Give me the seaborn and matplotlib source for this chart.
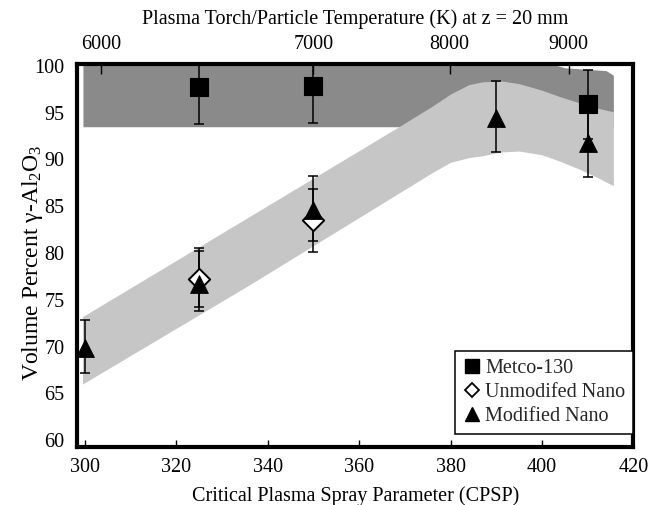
import matplotlib
matplotlib.use("Agg")
import matplotlib.pyplot as plt
import seaborn as sns
import pandas as pd
from matplotlib.lines import Line2D

# ---------------- data ----------------
metco_x = [325, 350, 410]
metco_y = [97.7, 97.9, 95.9]
metco_err_lo = [3.9, 4.0, 3.7]
metco_err_hi = [3.9, 4.0, 3.7]

unmod_x = [325, 350]
unmod_y = [77.2, 83.5]
unmod_err_lo = [2.95, 2.2]
unmod_err_hi = [3.0, 3.3]

mod_x = [300, 325, 350, 390, 410]
mod_y = [69.9, 76.7, 84.55, 94.45, 91.8]
mod_err_lo = [2.7, 2.9, 4.45, 3.65, 3.7]
mod_err_hi = [2.9, 3.85, 3.65, 3.95, 3.7]

# shaded bands
nano_band_x = [299.5, 336, 368, 376, 380, 384, 387, 391, 395, 400, 404, 408.5, 412, 415.6]
nano_band_upper = [73.2, 83.9, 93.3, 95.7, 97.0, 98.0, 98.3, 98.4, 98.1, 97.4, 96.7, 96.0, 95.5, 95.1]
nano_band_lower = [66.0, 76.6, 86.2, 88.6, 89.7, 90.2, 90.4, 90.8, 90.9, 90.5, 89.8, 88.9, 88.1, 87.2]

metco_band_x = [299.6, 400, 405, 414, 415.6]
metco_band_upper = [100.5, 100.5, 99.8, 99.5, 99.0]
metco_band_lower = [93.5, 93.5, 93.5, 93.5, 93.5]

# top axis (temperature) ticks, located on the CPSP scale
temp_tick_pos = [303.6, 350.0, 379.8, 405.8]
temp_tick_labels = ["6000", "7000", "8000", "9000"]

x_ticks = [300, 320, 340, 360, 380, 400, 420]
y_ticks = [60, 65, 70, 75, 80, 85, 90, 95, 100]

# ---------------- style ----------------
sns.set_theme(style="white")
plt.rcParams["font.family"] = ["Liberation Serif", "DejaVu Serif"]
plt.rcParams["mathtext.fontset"] = "custom"
plt.rcParams["mathtext.rm"] = "Liberation Serif"
plt.rcParams["mathtext.it"] = "Liberation Serif:italic"

fig = plt.figure(figsize=(6.52, 5.05), dpi=100)
ax = fig.add_axes([0.1181, 0.1154, 0.8535, 0.7578])

dark_grey = "#8a8a8a"
light_grey = "#c6c6c6"

ax.fill_between(metco_band_x, metco_band_lower, metco_band_upper,
                color=dark_grey, linewidth=0, zorder=1)
ax.fill_between(nano_band_x, nano_band_lower, nano_band_upper,
                color=light_grey, linewidth=0, zorder=1.5)

err_kw = dict(fmt="none", ecolor="black", elinewidth=1.1, capsize=3.5,
              capthick=1.1, zorder=2)
ax.errorbar(metco_x, metco_y, yerr=[metco_err_lo, metco_err_hi], **err_kw)
ax.errorbar(unmod_x, unmod_y, yerr=[unmod_err_lo, unmod_err_hi], **err_kw)
ax.errorbar(mod_x, mod_y, yerr=[mod_err_lo, mod_err_hi], **err_kw)

df_metco = pd.DataFrame({"cpsp": metco_x, "vol": metco_y})
df_unmod = pd.DataFrame({"cpsp": unmod_x, "vol": unmod_y})
df_mod = pd.DataFrame({"cpsp": mod_x, "vol": mod_y})

sns.scatterplot(data=df_metco, x="cpsp", y="vol", marker="s", s=150,
                color="black", edgecolor="black", linewidth=0.8, ax=ax,
                zorder=3, legend=False)
sns.scatterplot(data=df_unmod, x="cpsp", y="vol", marker="D", s=118,
                color="white", edgecolor="black", linewidth=1.4, ax=ax,
                zorder=3.2, legend=False)
sns.scatterplot(data=df_mod, x="cpsp", y="vol", marker="^", s=165,
                color="black", edgecolor="black", linewidth=0.6, ax=ax,
                zorder=3.4, legend=False)

ax.set_xlim(298.3, 419.8)
ax.set_ylim(59.3, 100.2)
ax.set_xticks(x_ticks)
ax.set_yticks(y_ticks)
ax.tick_params(axis="both", direction="in", length=5, width=1, colors="black",
               labelsize=14.5, top=False, right=False)
ax.tick_params(axis="x", pad=8)
ax.tick_params(axis="y", pad=9)
for sp in ax.spines.values():
    sp.set_color("black")
    sp.set_linewidth(3)

ax.set_xlabel("Critical Plasma Spray Parameter (CPSP)", fontsize=14.5,
              labelpad=7, color="black")
ax.set_ylabel(r"Volume Percent γ-Al$_2$O$_3$", fontsize=17, color="black")
ax.yaxis.set_label_coords(-0.058, 0.48)

ax2 = ax.twiny()
ax2.set_xlim(ax.get_xlim())
ax2.set_xticks(temp_tick_pos)
ax2.set_xticklabels(temp_tick_labels)
ax2.tick_params(axis="x", direction="in", length=7, width=1, colors="black",
                labelsize=14.5, pad=7)
for sp in ax2.spines.values():
    sp.set_visible(False)
ax2.set_xlabel("Plasma Torch/Particle Temperature (K) at z = 20 mm",
               fontsize=14.5, labelpad=8, color="black")

handles = [
    Line2D([], [], marker="s", color="black", linestyle="none", markersize=9.5,
           label="Metco-130"),
    Line2D([], [], marker="D", markerfacecolor="white", markeredgecolor="black",
           markeredgewidth=1.3, linestyle="none", markersize=7.5,
           label="Unmodifed Nano"),
    Line2D([], [], marker="^", color="black", linestyle="none", markersize=10,
           label="Modified Nano"),
]
leg = ax.legend(handles=handles, loc="upper left",
                bbox_to_anchor=(455 / 652, 1 - 351 / 505),
                bbox_transform=fig.transFigure, fontsize=14.5, frameon=True,
                fancybox=False, shadow=False, handlelength=0.9,
                handletextpad=0.2, borderpad=0.4, labelspacing=0.25,
                borderaxespad=0)
leg.get_frame().set_edgecolor("black")
leg.get_frame().set_linewidth(1.1)
leg.get_frame().set_facecolor("white")
leg.get_frame().set_alpha(1)
leg.set_zorder(10)

fig.savefig("out.png", dpi=100)
